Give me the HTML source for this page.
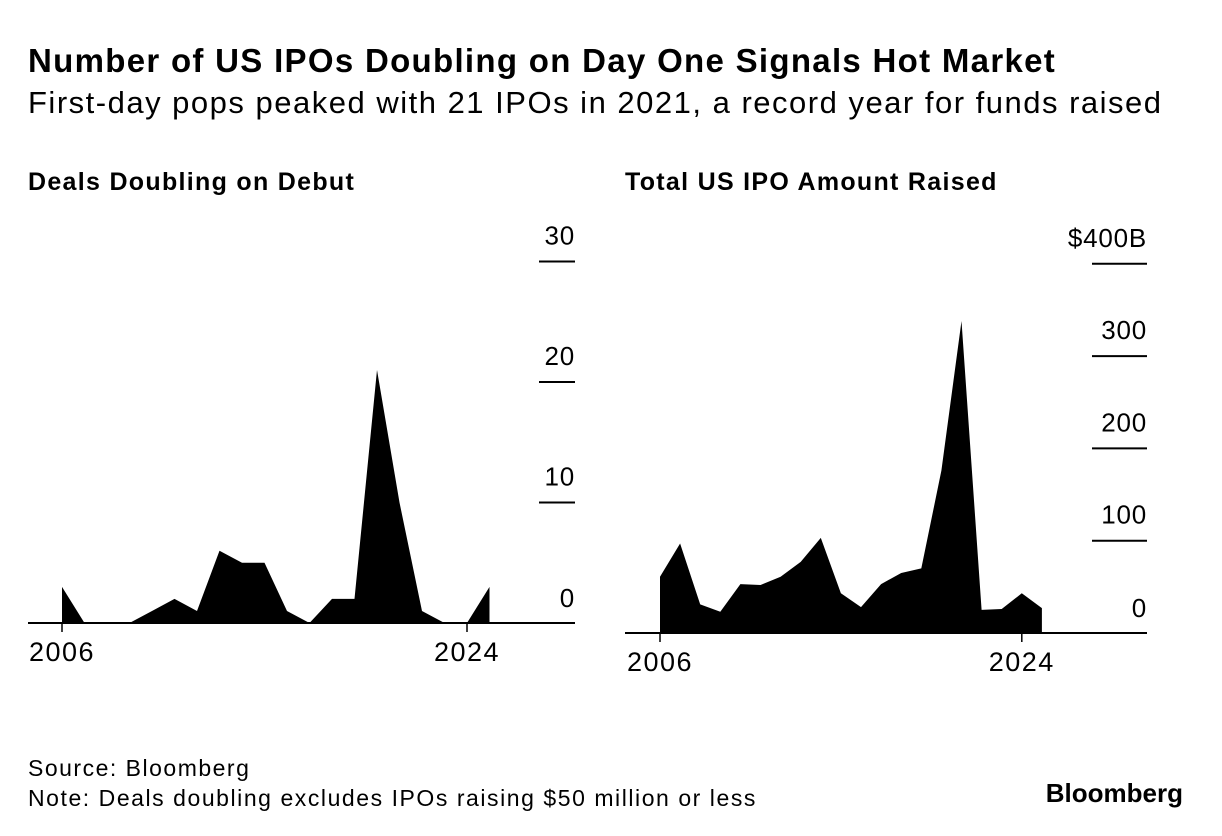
<!DOCTYPE html>
<html><head><meta charset="utf-8"><style>
body{margin:0;background:#fff;font-family:"Liberation Sans",sans-serif;color:#000}
#wrap{position:relative;width:1222px;height:836px;overflow:hidden}
.t{position:absolute;white-space:nowrap}
</style></head><body><div id="wrap">
<div class="t" style="left:28px;top:42px;font-size:33px;font-weight:bold;letter-spacing:1.3px">Number of US IPOs Doubling on Day One Signals Hot Market</div>
<div class="t" style="left:28px;top:85px;font-size:31px;letter-spacing:1.5px">First-day pops peaked with 21 IPOs in 2021, a record year for funds raised</div>
<div class="t" style="left:28px;top:168px;font-size:25px;font-weight:bold;letter-spacing:1.3px">Deals Doubling on Debut</div>
<div class="t" style="left:625px;top:168px;font-size:25px;font-weight:bold;letter-spacing:1.3px">Total US IPO Amount Raised</div>
<svg id="svg" width="1222" height="836" style="position:absolute;left:0;top:0"></svg>
<div class="t" style="left:28px;top:755px;font-size:23px;letter-spacing:1.5px">Source: Bloomberg</div>
<div class="t" style="left:28px;top:785px;font-size:23px;letter-spacing:1.55px">Note: Deals doubling excludes IPOs raising $50 million or less</div>
<div class="t" style="right:39px;top:778px;font-size:26px;font-weight:bold;letter-spacing:0px">Bloomberg</div>
</div>
<script>
const years=[2006,2007,2008,2009,2010,2011,2012,2013,2014,2015,2016,2017,2018,2019,2020,2021,2022,2023,2024,2025];
const dealsDoubling=[3,0,0,0,1,2,1,6,5,5,1,0,2,2,21,10,1,0,0,3];
const amountRaised=[61,97,31,23,53,52,61,77,103,43,28,53,65,70,176,338,25,26,43,27];
const leftTicks=[0,10,20,30];
const leftTickLabels=["0","10","20","30"];
const rightTicks=[0,100,200,300,400];
const rightTickLabels=["0","100","200","300","$400B"];
const xTickYears=[2006,2024];

const NS="http://www.w3.org/2000/svg";
const svg=document.getElementById('svg');
function mk(tag,attrs){const e=document.createElementNS(NS,tag);for(const k in attrs)e.setAttribute(k,attrs[k]);svg.appendChild(e);return e;}

function drawChart(cfg,vals,ticks,labels,prefix){
  const xs=y=>cfg.x0+(y-2006)*cfg.step;
  const ys=v=>cfg.base-v*cfg.k;
  let d=`M${xs(years[0])},${cfg.base}`;
  years.forEach((yr,i)=>{d+=` L${xs(yr)},${ys(vals[i])}`;});
  d+=` L${xs(years[years.length-1])},${cfg.base} Z`;
  const a=mk('path',{d:d,fill:'#000'});
  
  
  const ax=mk('line',{x1:cfg.ax0,x2:cfg.ax1,y1:cfg.base,y2:cfg.base,stroke:'#000','stroke-width':2});
  
  
  ticks.forEach((t,i)=>{
    const y=ys(t);
    if(t!==0){
      const g=mk('line',{x1:cfg.g0,x2:cfg.ax1,y1:y,y2:y,stroke:'#000','stroke-width':2});
      
      
    }
    const tx=mk('text',{x:cfg.ax1,y:(t===0?cfg.base-16:y-17),'text-anchor':'end','font-size':26,'letter-spacing':0.8,'font-family':'Liberation Sans, sans-serif'});
    tx.textContent=labels[i];
    
    
  });
  xTickYears.forEach(yr=>{
    const x=xs(yr);
    const tk=mk('line',{x1:x,x2:x,y1:cfg.base,y2:cfg.base+9,stroke:'#000','stroke-width':1.5});
    
    
    const tx=mk('text',{x:x,y:cfg.base+38,'text-anchor':'middle','font-size':27,'letter-spacing':1.5,'font-family':'Liberation Sans, sans-serif'});
    tx.textContent=String(yr);
    
    
  });
}
drawChart({x0:62,step:22.5,base:623,k:12.05,ax0:28,ax1:575,g0:539},dealsDoubling,leftTicks,leftTickLabels,'deals');
drawChart({x0:660,step:20.1,base:633,k:0.923,ax0:625,ax1:1147,g0:1092},amountRaised,rightTicks,rightTickLabels,'amount');
</script>
</body></html>
